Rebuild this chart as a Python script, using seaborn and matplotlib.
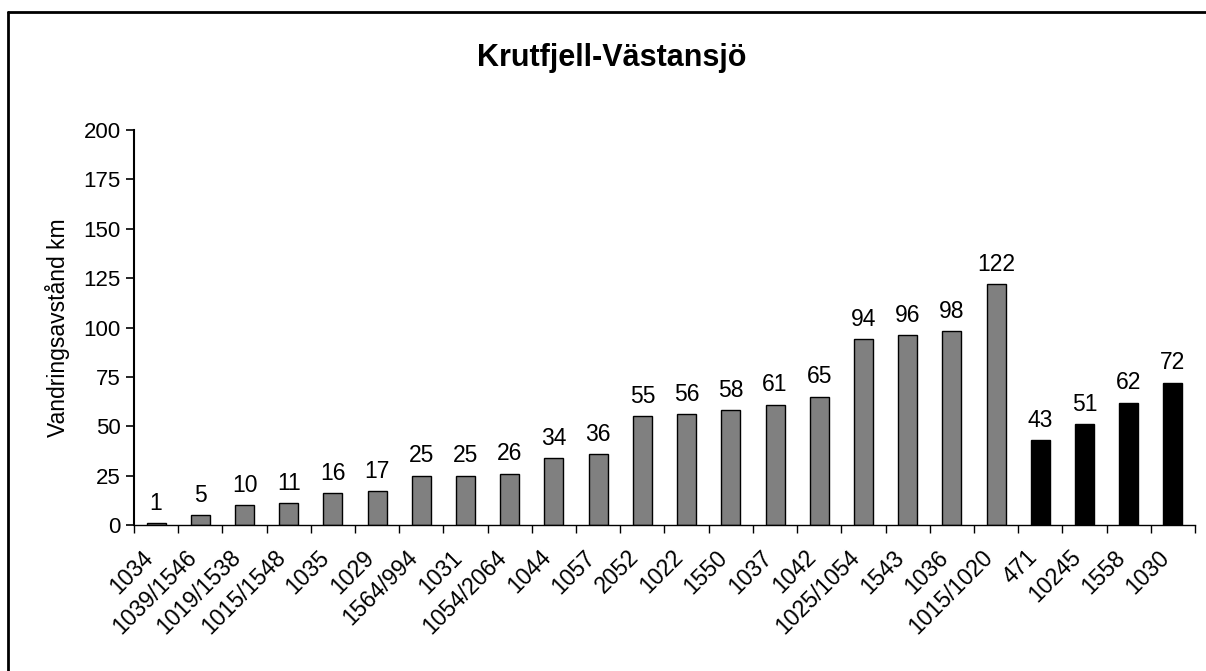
# Krutfjell-Västansjö: migration distance per fish, seaborn bar chart

import matplotlib.pyplot as plt
import matplotlib.transforms as mtransforms
from matplotlib.lines import Line2D
import seaborn as sns
import pandas as pd
import numpy as np

sns.set_style("ticks")
plt.rcParams['font.family'] = ['Liberation Sans', 'DejaVu Sans']
plt.rcParams.update({'text.color': 'black', 'axes.labelcolor': 'black',
                     'xtick.color': 'black', 'ytick.color': 'black',
                     'axes.edgecolor': 'black'})

fish_ids = ["1034", "1039/1546", "1019/1538", "1015/1548", "1035", "1029",
            "1564/994", "1031", "1054/2064", "1044", "1057", "2052", "1022",
            "1550", "1037", "1042", "1025/1054", "1543", "1036", "1015/1020",
            "471", "10245", "1558", "1030"]
distance_km = [1, 5, 10, 11, 16, 17, 25, 25, 26, 34, 36, 55, 56, 58, 61, 65,
               94, 96, 98, 122, 43, 51, 62, 72]
group = ["gray"] * 20 + ["black"] * 4

y_ticks = [0, 25, 50, 75, 100, 125, 150, 175, 200]


def plot():
    df = pd.DataFrame({'Fisk': fish_ids, 'Avstand': distance_km, 'Grupp': group})
    n = len(df)

    fig = plt.figure(figsize=(12.06, 6.71), dpi=100)
    ax = fig.add_axes([134 / 1206, 1 - 525 / 671, (1195 - 134) / 1206, (525 - 130) / 671])

    sns.barplot(data=df, x='Fisk', y='Avstand', hue='Grupp',
                palette={'gray': '#808080', 'black': '#000000'},
                dodge=False, width=0.43, edgecolor='black', linewidth=1,
                legend=False, ax=ax)

    for cont in ax.containers:
        ax.bar_label(cont, fmt='%d', padding=6, fontsize=16.5)

    ax.set_ylim(0, 200)
    ax.set_yticks(y_ticks)
    ax.tick_params(axis='y', labelsize=16, length=6, width=1.2, direction='out')
    ax.set_ylabel("Vandringsavstånd km", fontsize=16.5, labelpad=10)
    ax.set_xlabel("")

    # ticks between categories, labels under the bars
    ax.set_xlim(-0.5, n - 0.5)
    ax.set_xticks(np.arange(-0.5, n, 1))
    ax.set_xticklabels([""] * (n + 1))
    ax.set_xticks(np.arange(n), minor=True)
    ax.set_xticklabels(fish_ids, minor=True, rotation=45, ha='right',
                       rotation_mode='anchor', fontsize=16.5)
    ax.tick_params(axis='x', which='major', length=6, width=1)
    ax.tick_params(axis='x', which='minor', length=0, pad=15)
    shift = mtransforms.ScaledTranslation(-0.15, 0, fig.dpi_scale_trans)
    for lbl in ax.get_xticklabels(minor=True):
        lbl.set_transform(lbl.get_transform() + shift)

    sns.despine(ax=ax)
    ax.spines['left'].set_linewidth(1.5)
    ax.spines['bottom'].set_linewidth(1)

    fig.text(612 / 1206, 1 - 58 / 671, "Krutfjell-Västansjö", ha='center',
             va='center', fontsize=22, fontweight='bold')

    # frame of the chart area (only top and left visible)
    fig.add_artist(Line2D([8 / 1206, 8 / 1206], [0, 1 - 12 / 671],
                          transform=fig.transFigure, color='black', lw=2))
    fig.add_artist(Line2D([8 / 1206, 1], [1 - 12 / 671, 1 - 12 / 671],
                          transform=fig.transFigure, color='black', lw=2))

    fig.savefig("out.png", dpi=100)


if __name__ == "__main__":
    plot()
